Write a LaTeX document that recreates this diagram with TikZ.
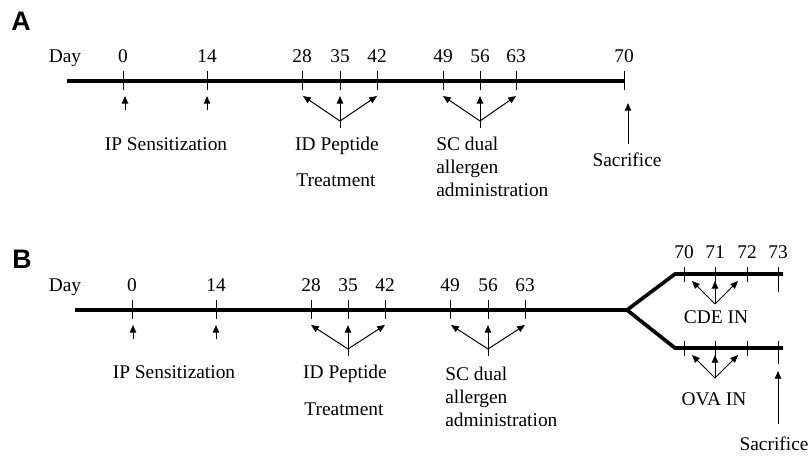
\documentclass[tikz,border=0pt]{standalone}
\usepackage{fontspec}
\setmainfont{Liberation Serif}
\newfontfamily\panelfont{Liberation Sans}
\usetikzlibrary{arrows.meta, calc}

\begin{document}
\begin{tikzpicture}[x=0.025cm, y=-0.025cm,
  every node/.style={font=\fontsize{13.8}{16}\selectfont, inner sep=0pt},
  panel/.style={font=\panelfont\bfseries\fontsize{19}{21}\selectfont},
  timeline/.style={line width=2.6pt},
  daytick/.style={line width=0.7pt},
  ptr/.style={line width=0.7pt, -{Triangle[length=5.5pt,width=4.6pt]}}]
 \useasboundingbox (0,0) rectangle (808,455);

 % Panel A
 \node[panel] (labelA) at (21,21) {A};
 \node[anchor=base] (dayA) at (65,62) {Day};
 \draw[timeline] (67,81) coordinate (startA) -- (624,81) coordinate (endA);
 \foreach \d/\x in {0/123,14/207,28/302,35/340,42/377,49/443,56/480,63/516,70/624} {
\draw[daytick] (\x,71) -- (\x,90);
\node[anchor=base] (dA\d) at (\x,62) {\d};
 }
 % IP injections
 \foreach \x in {125,207} {
\draw[ptr] (\x,110) -- (\x,96);
 }
 \node[anchor=base] (ipA) at (166,150) {IP Sensitization};

 % ID peptide fan
 \coordinate (fanA1) at (340,121);
 \draw[daytick] (fanA1) -- ++(0,7);
 \foreach \x in {303,340,377} {
\draw[ptr] (fanA1) -- (\x,96);
 }
 \node[anchor=base] (idA) at (337,150) {ID Peptide};
 \node[anchor=base] (treatA) at (336,186) {Treatment};

 % SC fan
 \coordinate (fanA2) at (480,121);
 \draw[daytick] (fanA2) -- ++(0,7);
 \foreach \x in {443,480,516} {
\draw[ptr] (fanA2) -- (\x,96);
 }
 \node[anchor=base west] (scA1) at (436,150) {SC dual};
 \node[anchor=base west] (scA2) at (436,173) {allergen};
 \node[anchor=base west] (scA3) at (436,196) {administration};

 % Sacrifice
 \node[anchor=base] (sacA) at (627,166) {Sacrifice};
 \coordinate (sacA-top) at (628,103);
 \draw[ptr] ($(sacA.north)+(1,-8)$) -- (sacA-top);

 % Panel B
 \node[panel] (labelB) at (22,259) {B};
 \node[anchor=base] (dayB) at (65,291) {Day};
 \draw[timeline] (75,310) coordinate (startB) -- (627,310) coordinate (forkB);
 \draw[timeline] (783,274) -- (675,274) -- (forkB) -- (675,348) -- (783,348);
 \foreach \d/\x in {0/132,14/216,28/311,35/348,42/385,49/450,56/488,63/525} {
\draw[daytick] (\x,300) -- (\x,319);
\node[anchor=base] (dB\d) at (\x,291) {\d};
 }
 \foreach \d/\x in {70/684,71/715,72/747,73/778} {
\node[anchor=base] (dB\d) at (\x,258) {\d};
 }
 \foreach \x in {684,715,747} {
\draw[daytick] (\x,267) -- (\x,282);
\draw[daytick] (\x,341) -- (\x,356);
 }
 \draw[daytick] (778,267) -- (778,292);
 \draw[daytick] (778,341) -- (778,364);

 % IP injections
 \foreach \x in {133,216} {
\draw[ptr] (\x,339) -- (\x,325);
 }
 \node[anchor=base] (ipB) at (174,378) {IP Sensitization};

 % ID peptide fan
 \coordinate (fanB1) at (348,349);
 \draw[daytick] (fanB1) -- ++(0,7);
 \foreach \x in {311,348,385} {
\draw[ptr] (fanB1) -- (\x,325);
 }
 \node[anchor=base] (idB) at (345,378) {ID Peptide};
 \node[anchor=base] (treatB) at (344,415) {Treatment};

 % SC fan
 \coordinate (fanB2) at (488,349);
 \draw[daytick] (fanB2) -- ++(0,7);
 \foreach \x in {451,488,525} {
\draw[ptr] (fanB2) -- (\x,325);
 }
 \node[anchor=base west] (scB1) at (445,380) {SC dual};
 \node[anchor=base west] (scB2) at (445,403) {allergen};
 \node[anchor=base west] (scB3) at (445,426) {administration};

 % intranasal challenges
 \coordinate (fanB3) at (715,304);
 \foreach \x in {692,715,738} {
\draw[ptr] (fanB3) -- (\x,281);
 }
 \node[anchor=base] (cdeB) at (716,323) {CDE IN};
 \coordinate (fanB4) at (715,378);
 \foreach \x in {692,715,738} {
\draw[ptr] (fanB4) -- (\x,355);
 }
 \node[anchor=base] (ovaB) at (714,405) {OVA IN};

 % Sacrifice
 \node[anchor=base] (sacB) at (774,450) {Sacrifice};
 \coordinate (sacB-top) at (778,371);
 \draw[ptr] (778,424) -- (sacB-top);
\end{tikzpicture}
\end{document}
